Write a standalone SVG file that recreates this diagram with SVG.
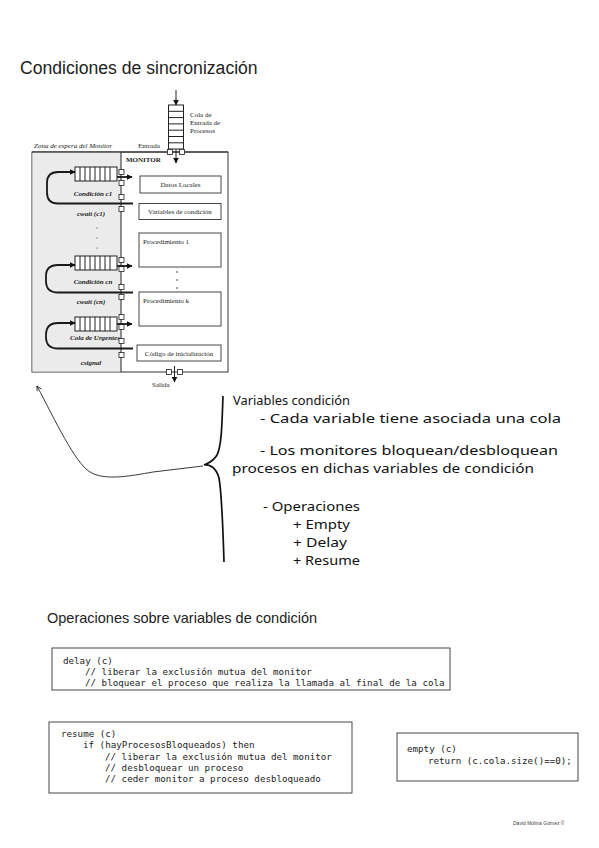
<svg xmlns="http://www.w3.org/2000/svg" width="599" height="848" viewBox="0 0 599 848">
<defs>
  <marker id="ah" viewBox="0 0 10 10" refX="9" refY="5" markerWidth="6" markerHeight="6" markerUnits="userSpaceOnUse" orient="auto">
    <path d="M0,0 L10,5 L0,10 z" fill="#111"/>
  </marker>
  <marker id="ahOpen" viewBox="0 0 10 10" refX="9" refY="5" markerWidth="6" markerHeight="6" markerUnits="userSpaceOnUse" orient="auto">
    <path d="M1,1 L9,5 L1,9" fill="none" stroke="#111" stroke-width="1.3"/>
  </marker>
  <linearGradient id="shadeH" x1="0" x2="1" y1="0" y2="0">
    <stop offset="0" stop-color="#333" stop-opacity="0"/>
    <stop offset="0.5" stop-color="#222" stop-opacity="1"/>
    <stop offset="1" stop-color="#333" stop-opacity="0"/>
  </linearGradient>
</defs>
<style>
  .title{font-family:"Liberation Sans",Arial,sans-serif;fill:#222}
  .ser{font-family:"Liberation Serif","Times New Roman",serif;fill:#222;font-size:7px}
  .it{font-style:italic}
  .bi{font-style:italic;font-weight:bold}
  .hand{font-family:"Noto Sans","DejaVu Sans",sans-serif;font-size:13px;fill:#111}
  .code{font-family:"DejaVu Sans Mono","Liberation Mono",monospace;font-size:9.2px;fill:#222;white-space:pre}
  .box{fill:#fff;stroke:#333;stroke-width:0.9}
  .ln{stroke:#222;stroke-width:1;fill:none}
  .thick{stroke:#1a1a1a;stroke-width:1.8;fill:none}
  .sq{fill:#fff;stroke:#222;stroke-width:0.8}
  .q{fill:#fff;stroke:#222;stroke-width:1}
  .dot{fill:#333}
</style>
<rect width="599" height="848" fill="#fff"/>

<text class="title" x="20" y="74" font-size="17.6">Condiciones de sincronización</text>

<!-- Monitor figure -->
<g id="monitor">
  <rect x="32" y="152" width="196" height="220" fill="#fff" stroke="#333" stroke-width="1"/>
  <rect x="32.5" y="152.5" width="88.5" height="219" fill="#ebebeb"/>
  <line class="ln" x1="121" y1="152" x2="121" y2="372"/>
  <line class="ln" x1="32" y1="152" x2="228" y2="152"/>
  <text class="ser it" x="34" y="148" font-size="6.5">Zona de espera del Monitor</text>
  <text class="ser" x="138" y="148" font-size="6.5">Entrada</text>
  <text class="ser" x="126" y="162" font-weight="bold" font-size="6">MONITOR</text>
</g>

<g id="entry-queue">
  <rect class="q" x="168.5" y="105" width="15" height="44"/>
  <path class="ln" d="M168.5 111.3H183.5M168.5 117.6H183.5M168.5 123.9H183.5M168.5 130.2H183.5M168.5 136.5H183.5M168.5 142.8H183.5"/>
  <text class="ser" x="190" y="117" font-size="6.5">Cola de</text>
  <text class="ser" x="190" y="125" font-size="6.5">Entrada de</text>
  <text class="ser" x="190" y="133" font-size="6.5">Procesos</text>
  <rect class="sq" x="167.5" y="149.5" width="5" height="5"/>
  <rect class="sq" x="179.5" y="149.5" width="5" height="5"/>
</g>

<g id="exit">
  <rect class="sq" x="166.5" y="369.5" width="5" height="5"/>
  <rect class="sq" x="177.5" y="369.5" width="5" height="5"/>
  <text class="ser" x="152" y="387" font-size="6.5">Salida</text>
</g>

<g id="datos-locales">
  <rect class="box" x="140" y="176" width="81" height="17"/>
  <text class="ser" x="180.5" y="187" text-anchor="middle">Datos Locales</text>
</g>
<g id="variables-condicion">
  <rect class="box" x="139" y="203.5" width="82" height="16"/>
  <text class="ser" x="180" y="214" text-anchor="middle">Variables de condición</text>
</g>
<g id="procedimiento-1">
  <rect class="box" x="139" y="233" width="82" height="34"/>
  <text class="ser" x="143" y="244">Procedimiento 1</text>
</g>
<g id="dots-right">
  <circle class="dot" cx="177" cy="272" r="0.8"/>
  <circle class="dot" cx="177" cy="280" r="0.8"/>
  <circle class="dot" cx="177" cy="288" r="0.8"/>
</g>
<g id="procedimiento-k">
  <rect class="box" x="139" y="292" width="82" height="34"/>
  <text class="ser" x="143" y="303">Procedimiento k</text>
</g>
<g id="codigo-inicializacion">
  <rect class="box" x="137" y="345" width="84" height="16"/>
  <text class="ser" x="179" y="355.5" text-anchor="middle">Código de inicialización</text>
</g>

<g id="queue-c1">
  <rect class="q" x="75" y="167" width="42" height="14"/>
  <path class="ln" d="M80 167V181M85 167V181M90 167V181M95 167V181M100 167V181M105 167V181M110 167V181"/>
  <text class="ser bi" x="93" y="196" text-anchor="middle">Condición c1</text>
  <text class="ser bi" x="91" y="216" text-anchor="middle">cwait (c1)</text>
  <rect class="sq" x="119" y="169.5" width="5" height="5"/>
  <rect class="sq" x="119" y="180.5" width="5" height="5"/>
  <rect class="sq" x="119" y="194.5" width="5" height="5"/>
  <rect class="sq" x="119" y="206.5" width="5" height="5"/>
</g>
<g id="dots-left">
  <circle class="dot" cx="97" cy="228" r="0.6"/>
  <circle class="dot" cx="97" cy="238" r="0.6"/>
  <circle class="dot" cx="97" cy="248" r="0.6"/>
</g>
<g id="queue-cn">
  <rect class="q" x="75" y="256" width="42" height="14"/>
  <path class="ln" d="M80 256V270M85 256V270M90 256V270M95 256V270M100 256V270M105 256V270M110 256V270"/>
  <text class="ser bi" x="93" y="284" text-anchor="middle">Condición cn</text>
  <text class="ser bi" x="91" y="304" text-anchor="middle">cwait (cn)</text>
  <rect class="sq" x="119" y="257.5" width="5" height="5"/>
  <rect class="sq" x="119" y="266.5" width="5" height="5"/>
  <rect class="sq" x="119" y="284.5" width="5" height="5"/>
  <rect class="sq" x="119" y="294.5" width="5" height="5"/>
</g>
<g id="queue-urgentes">
  <rect class="q" x="75" y="317" width="42" height="14"/>
  <path class="ln" d="M80 317V331M85 317V331M90 317V331M95 317V331M100 317V331M105 317V331M110 317V331"/>
  <text class="ser bi" x="95" y="340" text-anchor="middle">Cola de Urgentes</text>
  <text class="ser bi" x="91" y="365" text-anchor="middle">csignal</text>
  <rect class="sq" x="119" y="314.5" width="5" height="5"/>
  <rect class="sq" x="119" y="324.5" width="5" height="5"/>
  <rect class="sq" x="119" y="338.5" width="5" height="5"/>
  <rect class="sq" x="119" y="352.5" width="5" height="5"/>
</g>

<g id="connectors">
  <line class="ln" x1="176" y1="90" x2="176" y2="105" marker-end="url(#ah)"/>
  <line class="ln" x1="176" y1="149" x2="176" y2="163" marker-end="url(#ah)"/>
  <line class="ln" x1="174.5" y1="366" x2="174.5" y2="382" marker-end="url(#ah)"/>
  <path class="thick" d="M133 203.5H58Q47 203.5 47 192.5V183Q47 172 58 172H75" marker-end="url(#ah)"/>
  <path class="thick" d="M117 177H132" marker-end="url(#ah)"/>
  <path class="thick" d="M133 292.5H58Q46 292.5 46 281V276Q46 265 58 265H75" marker-end="url(#ah)"/>
  <path class="thick" d="M117 266H132" marker-end="url(#ah)"/>
  <path class="thick" d="M133 348.5H58Q46 348.5 46 337V335Q46 323 58 323H75" marker-end="url(#ah)"/>
  <path class="thick" d="M117 324H132" marker-end="url(#ah)"/>
  <!-- hand drawn -->
  <path d="M203 466L153 472C130 476 105 481 90 472C75 463 55 420 37 386" fill="none" stroke="#222" stroke-width="0.9" marker-end="url(#ahOpen)"/>
  <path d="M223 396C222 420 222 445 217 455C213 462 208 463 204 465C209 464 216 467 219 478C222 495 223 530 224 562" fill="none" stroke="#111" stroke-width="1.7"/>
</g>

<g id="notes">
  <text class="hand" x="233" y="405" textLength="117" lengthAdjust="spacingAndGlyphs">Variables condición</text>
  <text class="hand" x="260" y="423" textLength="301" lengthAdjust="spacingAndGlyphs">- Cada variable tiene asociada una cola</text>
  <text class="hand" x="260" y="455" textLength="298" lengthAdjust="spacingAndGlyphs">- Los monitores bloquean/desbloquean</text>
  <text class="hand" x="232" y="473" textLength="302" lengthAdjust="spacingAndGlyphs">procesos en dichas variables de condición</text>
  <text class="hand" x="263" y="511" textLength="97" lengthAdjust="spacingAndGlyphs">- Operaciones</text>
  <text class="hand" x="293" y="529" textLength="57" lengthAdjust="spacingAndGlyphs">+ Empty</text>
  <text class="hand" x="293" y="547" textLength="54" lengthAdjust="spacingAndGlyphs">+ Delay</text>
  <text class="hand" x="293" y="565" textLength="67" lengthAdjust="spacingAndGlyphs">+ Resume</text>
</g>

<text class="title" x="47" y="623" font-size="14.5">Operaciones sobre variables de condición</text>

<g id="delay-box">
  <rect class="box" x="52" y="648" width="398" height="42"/>
  <line x1="52" y1="648.5" x2="450" y2="648.5" stroke="url(#shadeH)" stroke-width="2.5"/>
  <text class="code" x="63" y="664">delay (c)</text>
  <text class="code" x="85" y="675">// liberar la exclusión mutua del monitor</text>
  <text class="code" x="85" y="686">// bloquear el proceso que realiza la llamada al final de la cola</text>
</g>

<g id="resume-box">
  <rect class="box" x="49" y="722" width="303" height="71"/>
  <line x1="49" y1="792.5" x2="352" y2="792.5" stroke="url(#shadeH)" stroke-width="2.5"/>
  <text class="code" x="61" y="737">resume (c)</text>
  <text class="code" x="83" y="748">if (hayProcesosBloqueados) then</text>
  <text class="code" x="105" y="760">// liberar la exclusión mutua del monitor</text>
  <text class="code" x="105" y="771">// desbloquear un proceso</text>
  <text class="code" x="105" y="782">// ceder monitor a proceso desbloqueado</text>
</g>

<g id="empty-box">
  <rect class="box" x="397" y="733" width="181" height="48"/>
  <text class="code" x="407" y="752">empty (c)</text>
  <text class="code" x="428" y="764">return (c.cola.size()==0);</text>
</g>

<text x="513" y="825" font-family="Liberation Sans, Arial, sans-serif" font-size="5" fill="#444">David Molina Gómez ©</text>
</svg>
